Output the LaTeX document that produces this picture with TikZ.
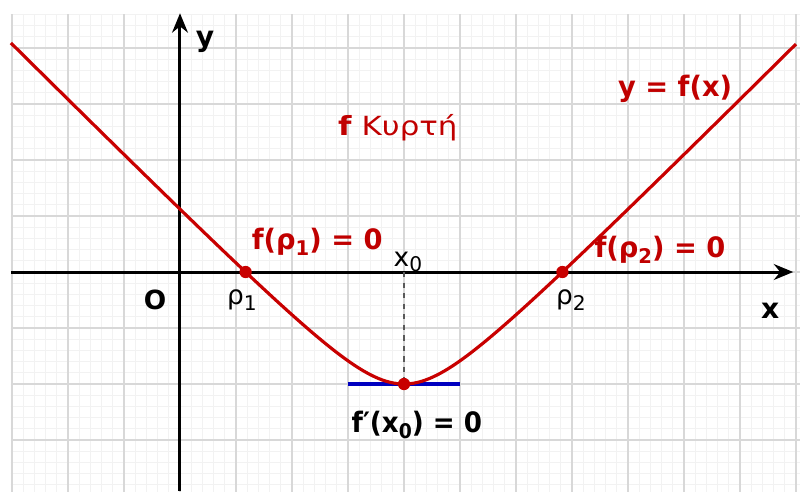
\documentclass[tikz,border=0pt]{standalone}
\usepackage{fontspec}
\setmainfont{DejaVu Sans}
\usetikzlibrary{arrows.meta}
\definecolor{curvered}{HTML}{C80000}
\definecolor{textred}{HTML}{C00000}
\definecolor{tanblue}{HTML}{0000C0}
\definecolor{gridmajor}{HTML}{D8D8D8}
\definecolor{gridminor}{HTML}{F2F2F2}
\newcommand{\mysub}[1]{\raisebox{-0.4ex}{\fontsize{11.5}{11.5}\selectfont #1}}
\newcommand{\wide}[2]{\scalebox{#1}[1]{#2}}
\tikzset{
  axisline/.style={line width=1.7pt, -{Stealth[length=11pt,width=9pt]}},
  redlabel/.style={text=textred, font=\fontsize{16}{16}\selectfont\bfseries, inner sep=0pt},
  blacklabel/.style={text=black, font=\fontsize{16}{16}\selectfont\bfseries, inner sep=0pt},
  ptlabel/.style={text=black, font=\fontsize{15}{15}\selectfont, inner sep=0pt},
  reddot/.style={circle, fill=curvered, inner sep=0pt, minimum size=7pt},
}
\begin{document}
\begin{tikzpicture}[x=1.12cm,y=1.12cm]
\useasboundingbox (-3.214,-3.911) rectangle (11.071,4.857);
\fill[white] (-3.214,-3.911) rectangle (11.071,4.857);
% grid
\begin{scope}
\clip (-3.02,-3.911) rectangle (11.071,4.607);
\draw[gridminor, line width=0.4pt, step=0.2] (-3.2,-4) grid (11.2,4.8);
\draw[gridmajor, line width=0.8pt, step=1] (-3,-4) grid (11.2,4.8);
\end{scope}
% axes
\coordinate (xs) at (-3.02,0);
\coordinate (xe) at (10.95,0);
\coordinate (ys) at (0,-3.911);
\coordinate (ye) at (0,4.62);
\draw[axisline] (xs) -- (xe);
\draw[axisline] (ys) -- (ye);
% tangent and dashed
\coordinate (m) at (4,-2);
\coordinate (tl) at (3,-2);
\coordinate (tr) at (5,-2);
\coordinate (x0p) at (4,0);
\draw[dashed, gray!70!black, line width=0.7pt] (x0p) -- (m);
\draw[tanblue, line width=1.8pt] (tl) -- (tr);
% curve
\draw[curvered, line width=1.8pt, domain=-3.02:11.0, samples=200, smooth]
  plot (\x, {sqrt((\x-4)*(\x-4)+1)-3});
% dots
\node[reddot] (r1) at (1.1716,0) {};
\node[reddot] (r2) at (6.8284,0) {};
\node[reddot] (mn) at (m) {};
% labels
\node[blacklabel] (ylab) at (0.446,4.107) {y};
\node[blacklabel, font=\fontsize{15}{15}\selectfont\bfseries] (olab) at (-0.446,-0.5) {O};
\node[ptlabel] (r1lab) at (1.107,-0.5) {ρ\mysub{1}};
\node[ptlabel] (r2lab) at (6.98,-0.5) {ρ\mysub{2}};
\node[blacklabel] (xlab) at (10.54,-0.70) {x};
\node[ptlabel] (x0lab) at (4.07,0.18) {x\mysub{0}};
\node[redlabel] (fr1) at (2.45,0.54) {\wide{0.97}{f(ρ\mysub{1}) = 0}};
\node[redlabel] (fr2) at (8.57,0.39) {\wide{0.97}{f(ρ\mysub{2}) = 0}};
\node[redlabel] (yfx) at (8.84,3.27) {\wide{0.97}{y = f(x)}};
\node[text=textred, font=\fontsize{15}{15}\selectfont, inner sep=0pt] (kyrti) at (3.89,2.57) {\wide{1.17}{\textbf{f} Κυρτή}};
\node[blacklabel] (fpx) at (4.23,-2.73) {\wide{0.93}{f′(x\mysub{0}) = 0}};
\end{tikzpicture}
\end{document}
